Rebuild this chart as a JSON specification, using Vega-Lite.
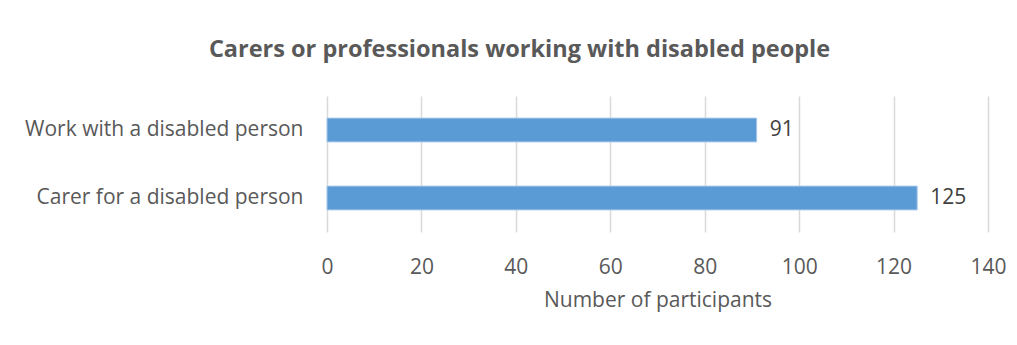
{
  "$schema": "https://vega.github.io/schema/vega-lite/v6.json",
  "autosize": "none",
  "width": 661,
  "height": 136,
  "padding": {"left": 327, "top": 96, "right": 29, "bottom": 113},
  "background": "white",
  "title": {
    "text": "Carers or professionals working with disabled people",
    "font": "Open Sans",
    "fontSize": 23.5,
    "fontWeight": "bold",
    "color": "#595959",
    "anchor": "middle",
    "frame": "group",
    "dx": -138,
    "offset": 35
  },
  "data": {
    "values": [
      {"category": "Work with a disabled person", "value": 91},
      {"category": "Carer for a disabled person", "value": 125}
    ]
  },
  "encoding": {
    "y": {
      "field": "category",
      "type": "nominal",
      "sort": null,
      "scale": {"paddingInner": 0.65, "paddingOuter": 0.325},
      "axis": {
        "title": null,
        "ticks": false,
        "domain": false,
        "labelFont": "Open Sans",
        "labelFontSize": 21,
        "labelColor": "#595959",
        "labelPadding": 24,
        "labelLimit": 400
      }
    },
    "x": {
      "field": "value",
      "type": "quantitative",
      "scale": {"domain": [0, 140], "nice": false},
      "axis": {
        "values": [0, 20, 40, 60, 80, 100, 120, 140],
        "title": "Number of participants",
        "titleFont": "Open Sans",
        "titleFontSize": 21,
        "titleFontWeight": "normal",
        "titleColor": "#595959",
        "titlePadding": 12,
        "labelFont": "Open Sans",
        "labelFontSize": 21,
        "labelColor": "#595959",
        "labelPadding": 24,
        "labelFlush": false,
        "ticks": false,
        "domain": false,
        "grid": true,
        "gridColor": "#d9d9d9",
        "gridWidth": 1.5
      }
    }
  },
  "layer": [
    {"mark": {"type": "bar", "color": "#5b9bd5", "stroke": "#a9c8ea", "strokeWidth": 1}},
    {
      "mark": {"type": "text", "align": "left", "baseline": "middle", "dx": 13, "font": "Open Sans", "fontSize": 21, "color": "#404040"},
      "encoding": {"text": {"field": "value", "type": "quantitative"}}
    }
  ],
  "config": {"view": {"stroke": null}}
}
